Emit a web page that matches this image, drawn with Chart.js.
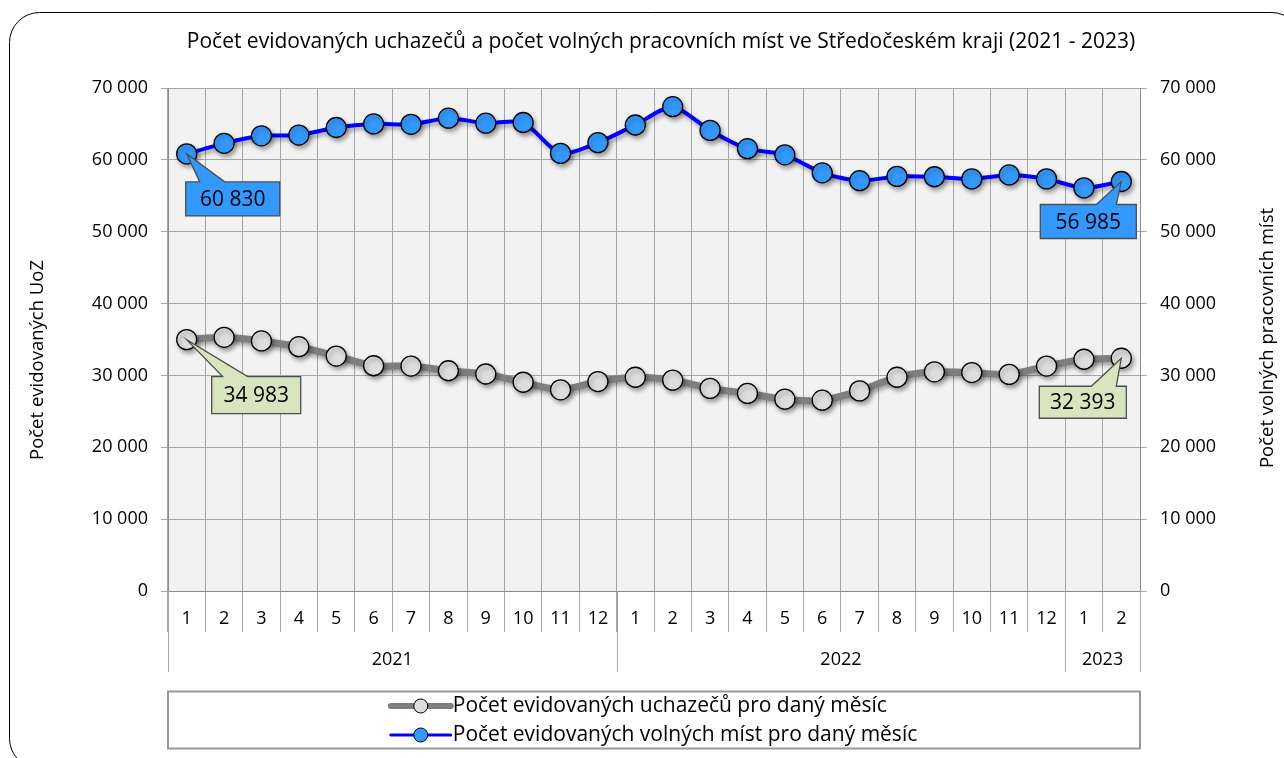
<!DOCTYPE html>
<html lang="cs">
<head>
<meta charset="UTF-8">
<title>Počet evidovaných uchazečů a počet volných pracovních míst</title>
<script src="https://cdn.jsdelivr.net/npm/chart.js"></script>
<style>
  body { margin: 0; background: #fff; }
  canvas { display: block; }
</style>
</head>
<body>
<canvas id="chart" width="1284" height="758"></canvas>
<script>
    // data
    var months = ['1','2','3','4','5','6','7','8','9','10','11','12',
                  '1','2','3','4','5','6','7','8','9','10','11','12',
                  '1','2'];
    var years = ['2021', '2022', '2023'];
    var monthsPerYear = [12, 12, 2];
    var seekers = [34983, 35300, 34800, 34000, 32700, 31350, 31300, 30650, 30200, 29050, 28000, 29150,
                   29750, 29350, 28200, 27500, 26700, 26550, 27850, 29750, 30500, 30400, 30150, 31300,
                   32250, 32393];
    var vacancies = [60830, 62300, 63350, 63450, 64500, 65000, 64950, 65800, 65100, 65200, 60900, 62400,
                     64850, 67400, 64100, 61550, 60700, 58200, 57100, 57700, 57650, 57350, 57900, 57350,
                     56100, 56985];
    var yTicks = [0, 10000, 20000, 30000, 40000, 50000, 60000, 70000];

    var titleText = 'Počet evidovaných uchazečů a počet volných pracovních míst ve Středočeském kraji (2021 - 2023)';
    var leftAxisTitle = 'Počet evidovaných UoZ';
    var rightAxisTitle = 'Počet volných pracovních míst';
    var seekersLabel = 'Počet evidovaných uchazečů pro daný měsíc';
    var vacanciesLabel = 'Počet evidovaných volných míst pro daný měsíc';

    var FONT = "'Open Sans', sans-serif";
    var gridColor = '#a6a6a6';

    Chart.defaults.font.family = FONT;
    Chart.defaults.font.size = 18;
    Chart.defaults.color = '#000';

    function fmt(v) {
        return String(v).replace(/\B(?=(\d{3})+(?!\d))/g, ' ');
    }

    // white page with the rounded outer frame + plot background, title, axis titles
    var framePlugin = {
        id: 'frame',
        beforeDraw: function(chart) {
            var ctx = chart.ctx, a = chart.chartArea;
            ctx.save();
            ctx.fillStyle = '#fff';
            ctx.fillRect(0, 0, chart.width, chart.height);
            ctx.beginPath();
            ctx.roundRect(9.5, 12.5, 1292, 756, 30);
            ctx.strokeStyle = '#000';
            ctx.lineWidth = 1;
            ctx.stroke();
            ctx.fillStyle = '#f2f2f2';
            ctx.fillRect(a.left, a.top, a.right - a.left, a.bottom - a.top);
            ctx.restore();
        },
        afterDraw: function(chart) {
            var ctx = chart.ctx;
            ctx.save();
            ctx.fillStyle = '#000';
            ctx.textAlign = 'center';
            ctx.textBaseline = 'middle';
            ctx.font = '21px ' + FONT;
            ctx.fillText(titleText, 661, 42);
            ctx.font = '18.5px ' + FONT;
            ctx.save();
            ctx.translate(38, 360);
            ctx.rotate(-Math.PI / 2);
            ctx.fillText(leftAxisTitle, 0, 0);
            ctx.restore();
            ctx.save();
            ctx.translate(1268, 338);
            ctx.rotate(-Math.PI / 2);
            ctx.fillText(rightAxisTitle, 0, 0);
            ctx.restore();
            ctx.restore();
        }
    };

    // second row of the category axis: years
    var yearRowPlugin = {
        id: 'yearRow',
        afterDraw: function(chart) {
            var ctx = chart.ctx, xs = chart.scales.x;
            var bottom = 672, n = months.length;
            var edges = [xs.left], idx = 0;
            monthsPerYear.forEach(function(c) {
                idx += c;
                edges.push(idx >= n ? xs.right :
                    (xs.getPixelForValue(idx - 1) + xs.getPixelForValue(idx)) / 2);
            });
            ctx.save();
            ctx.strokeStyle = gridColor;
            ctx.lineWidth = 1;
            edges.forEach(function(x) {
                x = Math.round(x) + 0.5;
                ctx.beginPath();
                ctx.moveTo(x, xs.top);
                ctx.lineTo(x, bottom);
                ctx.stroke();
            });
            ctx.fillStyle = '#000';
            ctx.font = '18px ' + FONT;
            ctx.textAlign = 'center';
            ctx.textBaseline = 'middle';
            years.forEach(function(y, i) {
                ctx.fillText(y, (edges[i] + edges[i + 1]) / 2, 660);
            });
            ctx.restore();
        }
    };

    // light drop shadow under the lines
    var shadowPlugin = {
        id: 'lineShadow',
        beforeDatasetDraw: function(chart) {
            var ctx = chart.ctx;
            ctx.save();
            ctx.shadowColor = 'rgba(0,0,0,0.35)';
            ctx.shadowBlur = 4;
            ctx.shadowOffsetX = 2;
            ctx.shadowOffsetY = 3;
        },
        afterDatasetDraw: function(chart) {
            chart.ctx.restore();
        }
    };

    // callout labels on first and last points
    var calloutPlugin = {
        id: 'callouts',
        afterDatasetsDraw: function(chart) {
            var last = months.length - 1;
            var list = [
                {ds: 1, i: 0,    dx: -1,  dy: 28, w: 94, h: 34, bl: 13,  br: 38, fill: '#3399ff'},
                {ds: 1, i: last, dx: -81, dy: 23, w: 96, h: 34, bl: -25, br: -5, fill: '#3399ff'},
                {ds: 0, i: 0,    dx: 25,  dy: 37, w: 89, h: 37, bl: 36,  br: 61, fill: '#d7e4bd'},
                {ds: 0, i: last, dx: -82, dy: 28, w: 87, h: 32, bl: -30, br: -5, fill: '#d7e4bd'}
            ];
            var ctx = chart.ctx;
            ctx.save();
            list.forEach(function(c) {
                var pt = chart.getDatasetMeta(c.ds).data[c.i];
                var px = pt.x, py = pt.y;
                var bx = px + c.dx, by = py + c.dy;
                ctx.beginPath();
                ctx.moveTo(bx, by);
                ctx.lineTo(px + c.bl, by);
                ctx.lineTo(px, py);
                ctx.lineTo(px + c.br, by);
                ctx.lineTo(bx + c.w, by);
                ctx.lineTo(bx + c.w, by + c.h);
                ctx.lineTo(bx, by + c.h);
                ctx.closePath();
                ctx.fillStyle = c.fill;
                ctx.fill();
                ctx.strokeStyle = '#4d4d4d';
                ctx.lineWidth = 1.3;
                ctx.stroke();
                ctx.fillStyle = '#000';
                ctx.font = '21px ' + FONT;
                ctx.textAlign = 'center';
                ctx.textBaseline = 'middle';
                ctx.fillText(fmt(chart.data.datasets[c.ds].data[c.i]), bx + c.w / 2, by + c.h / 2 + 1);
            });
            ctx.restore();
        }
    };

    // boxed legend, two rows
    var legendPlugin = {
        id: 'boxLegend',
        afterDraw: function(chart) {
            var ctx = chart.ctx, a = chart.chartArea;
            ctx.save();
            ctx.strokeStyle = '#999';
            ctx.lineWidth = 2;
            ctx.strokeRect(a.left, 691.5, a.right - a.left, 57);
            ctx.font = '21px ' + FONT;
            var maxW = 0;
            chart.data.datasets.forEach(function(d) {
                maxW = Math.max(maxW, ctx.measureText(d.label).width);
            });
            var markW = 62;
            var x0 = (a.left + a.right) / 2 - (markW + maxW) / 2;
            chart.data.datasets.forEach(function(d, i) {
                var y = 706 + i * 29;
                ctx.beginPath();
                ctx.moveTo(x0, y);
                ctx.lineTo(x0 + markW - 2, y);
                ctx.strokeStyle = d.borderColor;
                ctx.lineWidth = i === 0 ? 6 : 3;
                ctx.lineCap = 'round';
                ctx.stroke();
                ctx.beginPath();
                ctx.arc(x0 + markW / 2 - 1, y, 7, 0, Math.PI * 2);
                ctx.fillStyle = d.pointBackgroundColor;
                ctx.fill();
                ctx.strokeStyle = '#000';
                ctx.lineWidth = 1;
                ctx.stroke();
                ctx.fillStyle = '#000';
                ctx.textAlign = 'left';
                ctx.textBaseline = 'middle';
                ctx.fillText(d.label, x0 + markW, y);
            });
            ctx.restore();
        }
    };

    var ctx = document.getElementById('chart').getContext('2d');
    var chart = new Chart(ctx, {
        type: 'line',
        data: {
            labels: months,
            datasets: [{
                label: seekersLabel,
                data: seekers,
                yAxisID: 'y',
                borderColor: '#7f7f7f',
                borderWidth: 7,
                pointBackgroundColor: '#dddddd',
                pointBorderColor: '#000',
                pointBorderWidth: 1.3,
                pointRadius: 10,
                tension: 0.25
            }, {
                label: vacanciesLabel,
                data: vacancies,
                yAxisID: 'y1',
                borderColor: '#0000ff',
                borderWidth: 4,
                pointBackgroundColor: '#3399ff',
                pointBorderColor: '#000',
                pointBorderWidth: 1.3,
                pointRadius: 10,
                tension: 0.25
            }]
        },
        options: {
            responsive: false,
            animation: false,
            layout: { padding: { top: 88, left: 0, right: 0, bottom: 77 } },
            plugins: {
                legend: { display: false },
                title: { display: false },
                tooltip: { enabled: false }
            },
            scales: {
                x: {
                    offset: true,
                    grid: { color: gridColor, offset: true, tickLength: 41 },
                    border: { color: '#8c8c8c' },
                    ticks: { autoSkip: false, maxRotation: 0, padding: -24 },
                    afterFit: function(s) { s.height = 90; }
                },
                y: {
                    position: 'left',
                    min: 0, max: 70000,
                    afterBuildTicks: function(s) { s.ticks = yTicks.map(function(v) { return {value: v}; }); },
                    grid: { color: gridColor, tickLength: 7 },
                    border: { color: '#8c8c8c' },
                    ticks: { padding: 13, callback: function(v) { return fmt(v); } },
                    afterFit: function(s) { s.width = 168; }
                },
                y1: {
                    position: 'right',
                    min: 0, max: 70000,
                    afterBuildTicks: function(s) { s.ticks = yTicks.map(function(v) { return {value: v}; }); },
                    grid: { color: gridColor, drawOnChartArea: false, tickLength: 7 },
                    border: { color: '#8c8c8c' },
                    ticks: { padding: 13, callback: function(v) { return fmt(v); } },
                    afterFit: function(s) { s.width = 144; }
                }
            }
        },
        plugins: [framePlugin, shadowPlugin, calloutPlugin, yearRowPlugin, legendPlugin]
    });
</script>
</body>
</html>
